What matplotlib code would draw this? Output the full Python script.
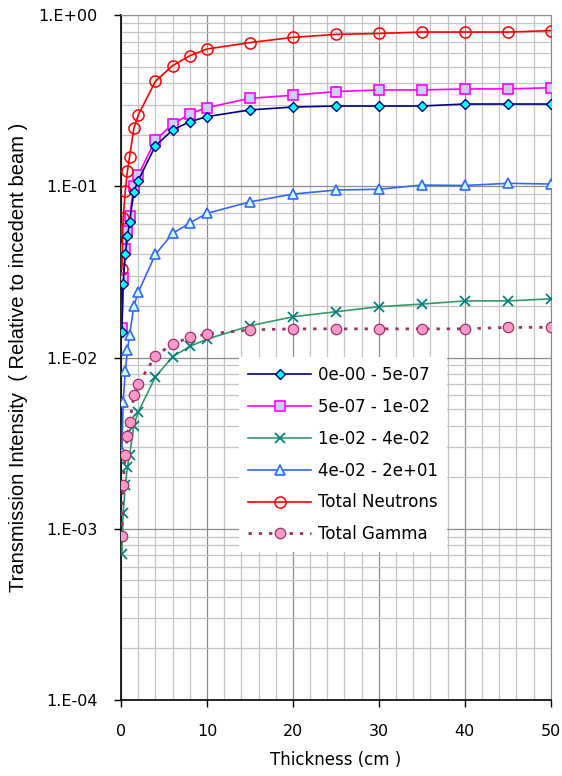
import numpy as np
import matplotlib
matplotlib.use("Agg")
import matplotlib.pyplot as plt
from matplotlib.ticker import FixedLocator, FuncFormatter, NullFormatter

thickness = [0.1, 0.25, 0.5, 0.75, 1, 1.5, 2, 4, 6, 8, 10, 15, 20, 25, 30, 35, 40, 45, 50]

g1 = [0.014, 0.027, 0.040, 0.051, 0.062, 0.093, 0.108, 0.172, 0.213, 0.238, 0.255,
      0.279, 0.290, 0.294, 0.294, 0.294, 0.302, 0.302, 0.302]
g2 = [0.0149, 0.029, 0.043, 0.055, 0.067, 0.100, 0.116, 0.186, 0.230, 0.264, 0.288,
      0.326, 0.340, 0.357, 0.365, 0.365, 0.370, 0.370, 0.376]
g3 = [0.00071, 0.00123, 0.0018, 0.0023, 0.0027, 0.0040, 0.0048, 0.0077, 0.0101, 0.0116,
      0.0128, 0.0153, 0.0173, 0.0185, 0.0198, 0.0205, 0.0214, 0.0214, 0.0220]
g4 = [0.0028, 0.0055, 0.0083, 0.0110, 0.0135, 0.020, 0.024, 0.040, 0.053, 0.061, 0.0695,
      0.081, 0.090, 0.095, 0.096, 0.1016, 0.101, 0.104, 0.103]
neutrons = [0.033, 0.065, 0.094, 0.123, 0.149, 0.218, 0.260, 0.410, 0.506, 0.578, 0.633,
            0.690, 0.740, 0.770, 0.780, 0.795, 0.795, 0.795, 0.810]
gamma = [0.00091, 0.0018, 0.0027, 0.0035, 0.0042, 0.0060, 0.0070, 0.0102, 0.0120, 0.0131,
         0.0137, 0.0145, 0.0147, 0.0147, 0.0147, 0.0147, 0.0147, 0.0150, 0.0150]

labels = ["0e-00 - 5e-07", "5e-07 - 1e-02", "1e-02 - 4e-02", "4e-02 - 2e+01",
          "Total Neutrons", "Total Gamma"]

fig = plt.figure(figsize=(5.62, 7.76), dpi=100)
ax = fig.add_axes([0.2153, 0.0979, 0.7647, 0.8828])

ax.plot(thickness, g1, color="#000080", lw=1.2, marker="D", ms=5, mfc="#00ffff",
        mec="#000080", mew=1.0, label=labels[0], zorder=5)
ax.plot(thickness, g2, color="#ff00ff", lw=1.2, marker="s", ms=7, mfc="#ccccff",
        mec="#ff00ff", mew=1.2, label=labels[1], zorder=4)
ax.plot(thickness, g3, color="#339966", lw=1.2, marker="x", ms=7, mfc="none",
        mec="#008080", mew=1.3, label=labels[2], zorder=4)
ax.plot(thickness, g4, color="#3366ff", lw=1.2, marker="^", ms=7, mfc="#ccffff",
        mec="#3366ff", mew=1.2, label=labels[3], zorder=4)
ax.plot(thickness, neutrons, color="#ff0000", lw=1.2, marker="o", ms=8, mfc="none",
        mec="#ff0000", mew=1.1, label=labels[4], zorder=4)
ax.plot(thickness, gamma, color="#993366", lw=2.0, ls=(0, (1.2, 2.5)), marker="o", ms=7.5,
        mfc="#ff99cc", mec="#993366", mew=0.9, label=labels[5], zorder=4)

ax.set_yscale("log")
ax.set_xlim(0, 50)
ax.set_ylim(1e-4, 1)

ax.xaxis.set_major_locator(FixedLocator([0, 10, 20, 30, 40, 50]))
ax.xaxis.set_minor_locator(FixedLocator(np.arange(2, 50, 2)))
ax.yaxis.set_major_locator(FixedLocator([1e-4, 1e-3, 1e-2, 1e-1, 1]))
ax.yaxis.set_minor_locator(FixedLocator([m * 10.0 ** e for e in range(-4, 0) for m in range(2, 10)]))
ax.yaxis.set_major_formatter(FuncFormatter(lambda v, p: "1.E%+03d" % int(round(np.log10(v)))))
ax.yaxis.set_minor_formatter(NullFormatter())

ax.grid(which="minor", color="#c4c4c4", lw=0.9)
ax.grid(which="major", color="#8c8c8c", lw=0.9)
ax.set_axisbelow(True)

ax.tick_params(which="major", direction="out", length=5, width=1, labelsize=11.5)
ax.tick_params(axis="x", pad=12)
ax.tick_params(axis="y", pad=12)
ax.tick_params(which="minor", length=0)
for s in ["top", "right"]:
    ax.spines[s].set_color("#8c8c8c")
for s in ["left", "bottom"]:
    ax.spines[s].set_color("black")
    ax.spines[s].set_linewidth(1.2)

ax.set_xlabel("Thickness (cm )", fontsize=12, labelpad=9)
ax.set_ylabel("Transmission Intensity  ( Relative to incedent beam )",
              family="Liberation Sans", fontsize=14.5, labelpad=7)

leg = ax.legend(loc="upper left", bbox_to_anchor=(0.255, 0.513), frameon=True,
                fancybox=False, framealpha=1, edgecolor="white", fontsize=12,
                handlelength=3.8, handletextpad=0.4, labelspacing=0.83, borderpad=0.55)
leg.get_frame().set_linewidth(0)

fig.savefig("out.png", dpi=100)
